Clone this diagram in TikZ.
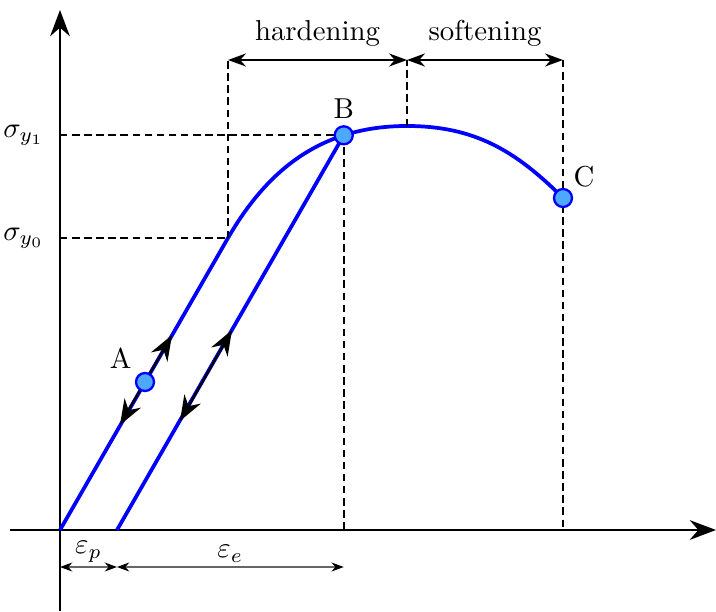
\documentclass[tikz,border=0pt]{standalone}
\usepackage{amsmath}
\usepackage{xcolor}
\usepackage{tikz}
\usetikzlibrary{arrows.meta,calc}
\definecolor{curveblue}{HTML}{0000FF}
\definecolor{ptfill}{HTML}{4FA8FF}

\begin{document}
\begin{tikzpicture}[
  x=0.0122cm,y=0.0122cm,
  axis/.style={line width=0.7pt,-{Stealth[length=3.2mm,width=2.4mm]}},
  guide/.style={line width=0.7pt,dash pattern=on 2.6pt off 1.6pt},
  curve/.style={draw=curveblue,line width=1.3pt},
  dim/.style={line width=0.6pt,{Stealth[length=2.2mm,width=1.6mm]}-{Stealth[length=2.2mm,width=1.6mm]}},
  smalldim/.style={line width=0.4pt,draw=black!60,{Stealth[length=1.5mm,width=1.1mm,color=black]}-{Stealth[length=1.5mm,width=1.1mm,color=black]}},
  dirarr/.style={line width=0.8pt,{Stealth[length=3.1mm,width=2.3mm]}-{Stealth[length=3.1mm,width=2.3mm]}},
  stpt/.style={circle,draw=curveblue,fill=ptfill,line width=0.8pt,inner sep=0pt,minimum size=2.2mm}]
  \useasboundingbox (-60,-81) rectangle (656,530);
  % axes
  \coordinate (O) at (0,0);
  \coordinate (xl) at (-50,0); \coordinate (xr) at (656,0);
  \coordinate (yb) at (0,-81); \coordinate (yt) at (0,520);
  \draw[axis] (xl) -- (xr);
  \draw[axis] (yb) -- (yt);
  % stress-strain curve
  \coordinate (Y0) at (168,292);
  \coordinate (top) at (347,404);
  \coordinate (C) at (503,332);
  \coordinate (foot) at (57,0);
  \draw[curve] (O) -- (Y0) to[out=60,in=180] coordinate[pos=0.72] (B) (top) to[out=0,in=135] (C);
  \draw[curve] (B) -- (foot);
  % guide lines
  \coordinate (hl) at (168,470); \coordinate (hm) at (347,470); \coordinate (hr) at (503,470);
  \draw[guide] (O |- B) -- (B); \draw[guide] (O |- Y0) -- (Y0);
  \draw[guide] (Y0) -- (hl); \draw[guide] (top) -- (hm); \draw[guide] (hr) -- (C |- O);
  \draw[guide] (B) -- (B |- O);
  \node[left,xshift=-2pt] at (O |- B) {$\sigma_{y_1}$};
  \node[left,xshift=-2pt] at (O |- Y0) {$\sigma_{y_0}$};
  % regions
  \draw[dim] (hl) -- node[above=1pt] {hardening} (hm);
  \draw[dim] (hm) -- node[above=1pt] {softening} (hr);
  % strains
  \coordinate (e0) at (0,-37);
  \coordinate (e1) at (foot |- e0);
  \coordinate (e2) at (B |- e0);
  \draw[smalldim] (e0) -- node[above,inner sep=1.5pt] {$\varepsilon_p$} (e1);
  \draw[smalldim] (e1) -- node[above,inner sep=1.5pt] {$\varepsilon_e$} (e2);
  % loading / unloading directions
  \coordinate (a1) at (60,105); \coordinate (a2) at (112,195);
  \coordinate (u1) at (120,109); \coordinate (u2) at (172,200);
  \draw[dirarr] (a1) -- (a2);
  \draw[dirarr] (u1) -- (u2);
  % states
  \node[stpt,label={[inner sep=2pt]above left:A}] (A) at (85,148) {};
  \node[stpt,label={[inner sep=2pt]above:B}] (Bpt) at (B) {};
  \node[stpt,label={[inner sep=1pt]above right:C}] (Cpt) at (C) {};
\end{tikzpicture}
\end{document}
